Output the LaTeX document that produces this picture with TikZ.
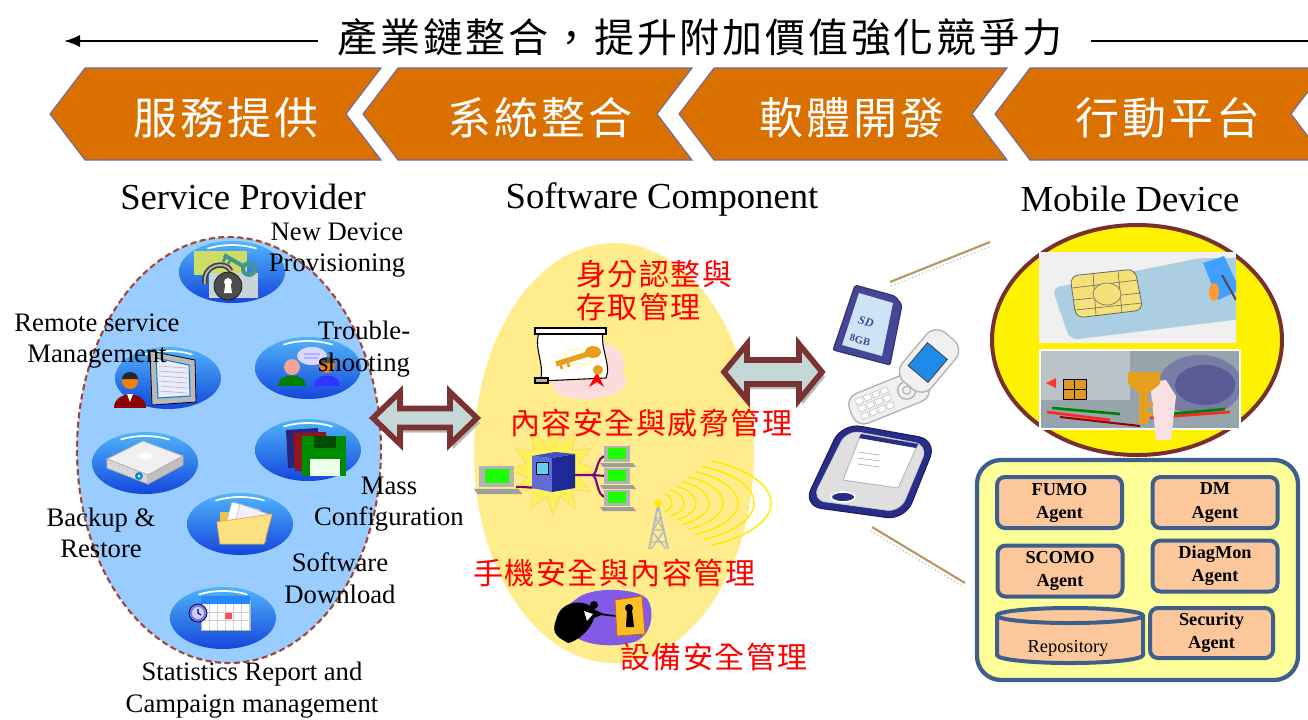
\documentclass[tikz,border=0pt]{standalone}
\usepackage{fontspec}
\setmainfont{Liberation Serif}
\newfontfamily\cjk{Noto Sans CJK TC}
\usetikzlibrary{shapes.geometric,arrows.meta,calc}

\definecolor{chev}{RGB}{217,112,0}
\definecolor{chevline}{RGB}{105,105,170}
\definecolor{spblue}{RGB}{153,204,255}
\definecolor{spdash}{RGB}{165,70,50}
\definecolor{arrfill}{RGB}{197,216,216}
\definecolor{arrline}{RGB}{122,50,50}
\definecolor{swyellow}{RGB}{255,236,140}
\definecolor{agentfill}{RGB}{255,255,153}
\definecolor{agentline}{RGB}{62,94,140}
\definecolor{peach}{RGB}{252,200,155}
\definecolor{mdline}{RGB}{120,48,44}
\definecolor{tanline}{RGB}{185,150,100}
\definecolor{discdark}{RGB}{20,70,220}
\definecolor{disclight}{RGB}{80,180,250}
\definecolor{gold}{RGB}{230,160,30}
\definecolor{keyteal}{RGB}{70,150,140}
\definecolor{lockyg}{RGB}{205,220,100}
\definecolor{lockgray}{RGB}{200,212,216}
\definecolor{sdblue}{RGB}{70,70,150}
\definecolor{pdablue}{RGB}{40,45,135}
\definecolor{simblue}{RGB}{172,206,226}
\definecolor{chipgold}{RGB}{245,225,120}
\definecolor{burglar}{RGB}{130,90,230}
\definecolor{wave}{RGB}{255,235,0}
\definecolor{facepink}{RGB}{240,165,150}
\definecolor{folderback}{RGB}{235,195,80}
\definecolor{folderfront}{RGB}{250,225,130}
\definecolor{blobpink}{RGB}{250,220,220}
\definecolor{burstfill}{RGB}{255,240,90}
\definecolor{burstline}{RGB}{250,215,120}
\definecolor{srvfront}{RGB}{90,110,220}
\definecolor{srvside}{RGB}{30,40,150}
\definecolor{srvtop}{RGB}{60,80,190}
\definecolor{doorgold}{RGB}{250,190,40}
\definecolor{sdlabel}{RGB}{205,228,245}
\definecolor{phonescreen}{RGB}{30,140,230}
\definecolor{cardbg}{RGB}{150,165,172}
\definecolor{cardlight}{RGB}{185,195,200}
\definecolor{cardring}{RGB}{120,125,165}
\definecolor{carddark}{RGB}{90,90,150}
\definecolor{keypink}{RGB}{250,225,225}

\tikzset{
  chevshape/.style={fill=chev, draw=chevline, line width=0.8pt},
  chevtxt/.style={font=\cjk\fontsize{33}{40}\selectfont\addfontfeature{LetterSpace=7}, text=white, inner sep=0pt},
  titletxt/.style={font=\cjk\fontsize{30}{36}\selectfont\addfontfeature{LetterSpace=7}, inner sep=0pt},
  trend/.style={line width=1.3pt, black},
  headtxt/.style={font=\fontsize{27.5}{33}\selectfont, inner sep=0pt},
  lbl/.style={font=\fontsize{20}{23.6}\selectfont, align=center, inner sep=0pt},
  redtxt/.style={font=\cjk\fontsize{22.5}{24.75}\selectfont\addfontfeature{LetterSpace=5}, text=red, inner sep=0pt},
  agent/.style={draw=agentline, fill=peach, line width=3pt, rounded corners=6pt,
    minimum width=93.75pt, minimum height=38.25pt, align=center,
    font=\bfseries\fontsize{13.7}{17.3}\selectfont, inner sep=0pt},
  dblarrow/.style={fill=arrfill, draw=arrline, line width=4.2pt, line join=miter},
  disc/.pic={
    \shade[top color=disclight, bottom color=discdark] (0,0) ellipse [x radius=53, y radius=31];
    \draw[white, line width=1.3pt] (240:49 and 27) arc[start angle=240, end angle=300, x radius=49, y radius=27];
  },
  pcmon/.pic={
    \fill[gray!60] (-14,-9) rectangle (12,7);
    \fill[green!85!lime] (-10,-7) rectangle (8,4);
    \fill[gray!75] (-18,8) -- (15,8) -- (18,12) -- (-15,12) -- cycle;
  },
  pics/dblarr/.style n args={4}{code={
    \begin{scope}[shift={(3,5)}]
      \fill[gray!55] (-#1,0) -- (-#1+#2,-#3) -- (-#1+#2,-#4) -- (#1-#2,-#4) -- (#1-#2,-#3) -- (#1,0)
        -- (#1-#2,#3) -- (#1-#2,#4) -- (-#1+#2,#4) -- (-#1+#2,#3) -- cycle;
    \end{scope}
    \draw[dblarrow] (-#1,0) -- (-#1+#2,-#3) -- (-#1+#2,-#4) -- (#1-#2,-#4) -- (#1-#2,-#3) -- (#1,0)
        -- (#1-#2,#3) -- (#1-#2,#4) -- (-#1+#2,#4) -- (-#1+#2,#3) -- cycle;
  }},
}

\begin{document}
\begin{tikzpicture}[x=0.75pt, y=-0.75pt]
\useasboundingbox (0,0) rectangle (1308,719);
\clip (0,0) rectangle (1308,719);

% ---------- headline with the value-chain arrow ----------
\node[titletxt] (title) at (700,37) {產業鏈整合，提升附加價值強化競爭力};
\coordinate (tlA) at (318,41);
\coordinate (tlB) at (64,41);
\coordinate (trA) at (1091,41);
\coordinate (trB) at (1308,41);
\draw[trend, -{Latex[length=12pt, width=9pt]}] (tlA) -- (tlB);
\draw[trend] (trA) -- (trB);

% ---------- chevrons ----------
\foreach \t/\r in {50/381, 363/692, 679/1007, 995/1326}
  \draw[chevshape] (\t,114) -- (\t+35,68) -- (\r,68) -- (\r-35,114) -- (\r,160) -- (\t+35,160) -- cycle;
\node[chevtxt] (ch1) at (226,118) {服務提供};
\node[chevtxt] (ch2) at (540,118) {系統整合};
\node[chevtxt] (ch3) at (852,118) {軟體開發};
\node[chevtxt] (ch4) at (1168,118) {行動平台};

% ---------- column headings ----------
\node[headtxt] (hsp) at (243,197) {Service Provider};
\node[headtxt] (hsw) at (662,199) {Software Component};
\node[headtxt] (hmd) at (1130,199) {Mobile Device};

% ---------- service provider oval ----------
\node[ellipse, fill=spblue, draw=spdash, line width=1.6pt, dash pattern=on 4.5pt off 2.6pt,
      minimum width=228pt, minimum height=319.5pt, inner sep=0pt] (sp) at (229,450) {};

\pic at (232,272) {disc};
\pic at (168,378) {disc};
\pic at (308,368) {disc};
\pic at (145,463) {disc};
\pic at (308,450) {disc};
\pic at (240,524) {disc};
\pic at (223,618) {disc};

% lock and key
\begin{scope}[shift={(232,272)}]
  \fill[lockyg] (-38,-21) rectangle (15,3);
  \fill[lockgray] (-23,1) rectangle (26,26);
  \draw[line width=4pt, black!75] (-27,12) .. controls (-30,-8) and (-6,-12) .. (-1,-1);
  \draw[line width=1.4pt, gray!60] (-27,12) .. controls (-30,-8) and (-6,-12) .. (-1,-1);
  \filldraw[fill=black!70, draw=black] (-4,14) circle (14);
  \fill[white] (-4,10) circle (4);
  \fill[white] (-6.5,11) -- (-1.5,11) -- (0,21) -- (-8,21) -- cycle;
  \draw[keyteal, line width=3pt] (-8,-17) -- (11,-6);
  \draw[keyteal, line width=2pt] (-6,-16) -- (-9,-10) (-1,-13) -- (-4,-8);
  \draw[keyteal, line width=3pt] (17,-3) circle (6);
\end{scope}

% monitor and operator
\begin{scope}[shift={(168,378)}]
  \filldraw[fill=gray!55, draw=black, line width=0.6pt] (-18,-27) -- (27,-18) -- (28,24) -- (-16,27) -- cycle;
  \filldraw[fill=blue!8, draw=cyan!60!blue, line width=0.8pt] (-12,-20) -- (21,-13) -- (22,18) -- (-10,20) -- cycle;
  \foreach \k in {-12,-7,...,13} \draw[gray!55, line width=0.5pt] (-9,\k) -- (19,\k+2);
  \fill[red!55!black] (-54,30) .. controls (-54,12) and (-22,12) .. (-22,30) -- cycle;
  \fill[white] (-41,16) -- (-35,16) -- (-38,24) -- cycle;
  \fill[orange!80!brown] (-38,3) circle (8);
  \fill[black!85] (-46,1) arc[start angle=180, end angle=360, x radius=8, y radius=7] -- cycle;
\end{scope}

% two people talking
\begin{scope}[shift={(308,368)}]
  \fill[white!85!blue] (4,-12) ellipse [x radius=15, y radius=9];
  \draw[blue!30, line width=1pt] (-4,-14) -- (12,-14) (-4,-10) -- (10,-10);
  \fill[green!50!black] (-30,18) .. controls (-30,4) and (-2,4) .. (-2,18) -- cycle;
  \fill[facepink] (-16,-1) circle (8);
  \fill[blue!80!white] (6,18) .. controls (6,4) and (32,4) .. (32,18) -- cycle;
  \fill[orange!70!brown] (19,-3) circle (8);
  \fill[black!70] (11,-5) arc[start angle=180, end angle=360, x radius=8, y radius=6] -- cycle;
\end{scope}

% backup box
\begin{scope}[shift={(145,463)}]
  \filldraw[fill=gray!12, draw=gray!60, line width=0.6pt] (-38,-4) -- (-2,-22) -- (38,-7) -- (3,12) -- cycle;
  \filldraw[fill=gray!30, draw=gray!60, line width=0.6pt] (-38,-4) -- (3,12) -- (3,21) -- (-38,5) -- cycle;
  \filldraw[fill=gray!50, draw=gray!60, line width=0.6pt] (3,12) -- (38,-7) -- (38,2) -- (3,21) -- cycle;
  \fill[white] (0,-7) ellipse [x radius=7, y radius=3];
  \fill[cyan!70!blue] (-6,13) circle (4);
  \fill[white] (-6,13) circle (1.5);
  \foreach \g in {-34,-30,...,-18} \fill[gray!60] (\g,{(\g+38)*0.39-1}) circle (0.8);
\end{scope}

% floppy disks
\begin{scope}[shift={(308,450)}]
  \fill[blue!40!black!85] (-22,-20) -- (10,-22) -- (12,16) -- (-20,18) -- cycle;
  \fill[red!50!black!90] (-15,-17) -- (18,-18) -- (20,20) -- (-13,21) -- cycle;
  \fill[green!55!black] (-6,-14) -- (38,-14) -- (38,26) -- (-6,26) -- cycle;
  \fill[green!30!black] (6,-14) rectangle (28,-2);
  \fill[white!92!green] (2,9) rectangle (32,26);
\end{scope}

% folder
\begin{scope}[shift={(240,524)}]
  \fill[folderback] (-20,-12) -- (-8,-12) -- (-5,-8) -- (26,-8) -- (26,18) -- (-20,18) -- cycle;
  \filldraw[fill=white, draw=gray!50, line width=0.5pt] (-8,-22) -- (20,-14) -- (14,8) -- (-14,0) -- cycle;
  \filldraw[fill=blue!6, draw=gray!50, line width=0.5pt] (0,-20) -- (28,-10) -- (22,10) -- (-6,2) -- cycle;
  \filldraw[fill=folderfront, draw=orange!70, line width=0.6pt] (-23,-2) -- (32,-10) -- (24,20) -- (-20,20) -- cycle;
\end{scope}

% calendar with clock
\begin{scope}[shift={(223,618)}]
  \filldraw[fill=white, draw=gray!60, line width=0.5pt] (-22,-18) rectangle (27,12);
  \fill[blue!55!cyan!85] (-22,-22) rectangle (27,-14);
  \foreach \gx in {-14,-6,...,26} \draw[gray!40, line width=0.5pt] (\gx,-14) -- (\gx,12);
  \foreach \gy in {-6,2} \draw[gray!40, line width=0.5pt] (-22,\gy) -- (27,\gy);
  \fill[red!70] (2,-5) rectangle (9,1);
  \filldraw[fill=blue!50!gray!70, draw=blue!40!black, line width=0.6pt] (-25,-5) circle (9);
  \fill[white!80!blue] (-25,-5) circle (6);
  \draw[blue!40!black, line width=0.8pt] (-25,-9) -- (-25,-5) -- (-22,-3);
\end{scope}

% ---------- software component oval ----------
\node[ellipse, fill=swyellow, minimum width=210pt, minimum height=315pt, inner sep=0pt] (sw) at (614,453) {};

% certificate scroll with key
\fill[blobpink] (560,345) .. controls (600,332) and (635,350) .. (622,372)
  .. controls (640,395) and (590,405) .. (560,395) .. controls (545,385) and (548,360) .. (560,345) -- cycle;
\filldraw[fill=white, draw=black, line width=0.8pt] (540,331) -- (604,328) .. controls (598,345) and (612,365) .. (606,378)
  -- (540,381) .. controls (546,366) and (532,346) .. (540,331) -- cycle;
\filldraw[fill=white, draw=black, line width=0.8pt] (535,328) rectangle (606,334);
\filldraw[fill=gray!60, draw=black, line width=0.8pt] (535,378) rectangle (548,383);
\draw[yellow!45, line width=0.6pt] (578,357) ellipse [x radius=15, y radius=8];
\draw[gold, line width=4pt] (556,364) -- (588,354);
\fill[gold] (593,352) ellipse [x radius=8, y radius=6];
\draw[gold, line width=2pt] (560,363) -- (562,369) (567,361) -- (569,367);
\fill[red] (597,372) -- (589,387) -- (597,382) -- (604,387) -- cycle;
\fill[gold] (598,370) circle (5);

% network with server
\node[star, star points=12, star point ratio=1.6, minimum size=66pt, fill=burstfill,
      draw=burstline, line width=0.6pt, inner sep=0pt] (burst) at (553,470) {};
\draw[violet, line width=1.6pt] (540,485) .. controls (532,490) and (528,486) .. (516,487);
\draw[violet, line width=1.6pt] (575,475) -- (592,475) .. controls (598,475) and (596,456) .. (606,456)
  (592,475) -- (606,476) (592,475) .. controls (598,475) and (596,497) .. (606,497);
\fill[srvfront] (532,456) -- (552,458) -- (552,492) -- (532,488) -- cycle;
\fill[srvside] (552,458) -- (575,454) -- (575,488) -- (552,492) -- cycle;
\fill[srvtop] (532,456) -- (555,452) -- (575,454) -- (552,458) -- cycle;
\filldraw[fill=cyan!60, draw=black, line width=0.5pt] (536,462) rectangle (548,474);
\foreach \dx/\dy in {538/479, 542/482, 546/479, 538/485, 546/485} \fill[red!80] (\dx,\dy) circle (0.9);
\pic[scale=1.35] at (498,478) {pcmon};
\pic at (618,455) {pcmon};
\pic at (618,477) {pcmon};
\pic at (618,499) {pcmon};

% radio tower and waves
\foreach \r in {14,26,38,51,65,80,96,113}
  \draw[wave, line width=1.1pt] (658,503) ++(-62:{\r} and {0.38*\r+5}) arc[start angle=-62, end angle=62, x radius=\r, y radius={0.38*\r+5}];
\draw[gray!55, line width=1.4pt] (649,549) -- (658,505) -- (668,549);
\draw[gray!55, line width=1pt] (653,530) -- (664,530) (651,542) -- (666,542)
  (652,531) -- (666,549) (664,531) -- (651,549) (655,518) -- (662,518) (655,518) -- (664,530) (661,518) -- (653,530);
\fill[wave] (658,503) circle (4);

% intruder at the keyhole
\fill[burglar] (575,600) .. controls (590,585) and (640,588) .. (648,600) .. controls (656,615) and (650,640) .. (630,643)
  .. controls (610,648) and (580,645) .. (570,632) .. controls (558,620) and (562,608) .. (575,600) -- cycle;
\fill[black] (556,620) .. controls (560,600) and (585,598) .. (595,610) -- (604,614) -- (594,618)
  .. controls (590,632) and (575,642) .. (568,643) .. controls (560,638) and (550,635) .. (556,620) -- cycle;
\fill[white] (584,611) -- (593,614) -- (587,621) -- cycle;
\fill[black] (594,605) circle (4);
\draw[black, line width=1.2pt] (598,614) -- (616,616);
\filldraw[fill=doorgold, draw=orange!80!black, line width=0.6pt] (615,600) -- (642,596) -- (645,634) -- (617,636) -- cycle;
\fill[black] (629,608) circle (4);
\fill[black] (627,610) -- (632,610) -- (634,627) -- (626,627) -- cycle;

% ---------- double arrows ----------
\pic (arrL) at (425,418) {dblarr={52}{27}{26}{9.5}};
\pic (arrR) at (773,372) {dblarr={49}{23}{28}{12}};

% ---------- devices ----------
% SD card
\filldraw[fill=sdblue, draw=sdblue!70!black, line width=0.8pt, rounded corners=1.5pt] (855,285) -- (895,296) -- (902,305) -- (890,365) -- (833,350) -- cycle;
\fill[sdlabel] (859,293) -- (893,303) -- (882,356) -- (842,345) -- cycle;
\node[rotate=-15, font=\bfseries\itshape\fontsize{9}{10}\selectfont, text=sdblue, inner sep=0pt] (sdlogo) at (866,322) {SD};
\node[rotate=-15, font=\bfseries\fontsize{8}{9}\selectfont, text=sdblue, inner sep=0pt] (sdsize) at (860,340) {8GB};

% flip phone
\begin{scope}[shift={(890,397)}, rotate=22]
  \filldraw[fill=gray!12, draw=gray!60, line width=1pt, rounded corners=9pt] (-42,-16) rectangle (40,16);
  \foreach \kx in {-30,-21,...,-3} \foreach \ky in {-8,0,8}
    \filldraw[fill=white, draw=gray!50, line width=0.4pt] (\kx-3.5,\ky-2.8) rectangle (\kx+3.5,\ky+2.8);
  \draw[gray!60, line width=1pt] (18,0) circle (9);
  \draw[gray!60, line width=0.8pt] (18,0) circle (4);
\end{scope}
\begin{scope}[shift={(929,361)}, rotate=50]
  \filldraw[fill=gray!12, draw=gray!60, line width=1pt, rounded corners=10pt] (-32,-19) rectangle (32,19);
  \filldraw[fill=phonescreen, draw=gray!50!black, line width=0.6pt] (-17,-13) rectangle (13,13);
\end{scope}

% PDA
\filldraw[fill=pdablue, draw=pdablue!70!black, line width=0.8pt, rounded corners=14pt] (842,423) -- (937,440) -- (905,520) -- (803,506) -- cycle;
\filldraw[fill=gray!25, draw=gray!40, line width=0.6pt, rounded corners=10pt] (847,430) -- (928,445) -- (900,512) -- (812,500) -- cycle;
\filldraw[fill=white, draw=gray!60, line width=0.6pt] (861,434) -- (918,444) -- (898,488) -- (843,480) -- cycle;
\fill[pdablue] (861,434) -- (918,444) -- (916,448) -- (859,438) -- cycle;
\foreach \ly in {452,458,464} \draw[gray!60, line width=0.5pt] (858,\ly) -- (880,\ly+3);
\filldraw[fill=pdablue, draw=white, line width=1.2pt] (843,497) ellipse [x radius=12, y radius=5];

% ---------- mobile device oval ----------
\node[ellipse, fill=yellow, draw=mdline, line width=3pt, minimum width=217.5pt, minimum height=172.5pt, inner sep=0pt] (md) at (1137,340) {};

% SIM card picture
\begin{scope}
  \clip (1039,252) rectangle (1236,343);
  \fill[gray!12] (1039,252) rectangle (1236,343);
  \fill[simblue, rounded corners=6pt] (1052,288) -- (1200,258) -- (1250,258) -- (1250,318) -- (1070,340) -- cycle;
  \filldraw[fill=chipgold, draw=black!60, line width=0.6pt, rounded corners=6pt] (1070,276) -- (1135,269) -- (1143,310) -- (1076,318) -- cycle;
  \draw[black!55, line width=0.5pt] (1072,288) -- (1138,280) (1074,300) -- (1141,293) (1075,310) -- (1142,303)
    (1093,273) -- (1096,316) (1118,271) -- (1122,313);
  \filldraw[fill=chipgold, draw=black!55, line width=0.5pt] (1107,294) ellipse [x radius=14, y radius=11];
  \fill[blue!50!cyan!75] (1203,263) -- (1224,256) -- (1240,290) -- (1218,300) -- cycle;
  \fill[orange!80] (1214,292) ellipse [x radius=5, y radius=9];
  \draw[black!70, line width=1.5pt] (1222,275) -- (1236,300);
\end{scope}

% card reader picture
\begin{scope}
  \clip (1040,350) rectangle (1240,429);
  \fill[cardbg] (1040,350) rectangle (1240,429);
  \fill[cardlight] (1040,350) rectangle (1130,400);
  \fill[cardring] (1200,385) ellipse [x radius=42, y radius=30];
  \fill[carddark] (1205,385) ellipse [x radius=30, y radius=20];
  \fill[red!80] (1046,383) -- (1056,378) -- (1056,388) -- cycle;
  \filldraw[fill=gold!80!brown, draw=black, line width=0.6pt] (1063,379) rectangle (1086,399);
  \draw[black, line width=0.6pt] (1074,379) -- (1074,399) (1063,389) -- (1086,389);
  \draw[red!85, line width=2pt] (1047,412) -- (1110,420) (1150,418) -- (1230,412);
  \draw[green!50!black, line width=2pt] (1052,408) -- (1120,414) (1170,414) -- (1225,409);
  \draw[red!60!black, line width=1.5pt] (1060,417) -- (1140,426);
\end{scope}
\draw[white, line width=1pt] (1040,350) rectangle (1240,429);
\fill[keypink] (1150,382) -- (1166,380) -- (1176,396) -- (1171,440) -- (1156,440) -- cycle;
\fill[gold] (1128,372) -- (1160,372) -- (1160,384) -- (1150,392) -- (1138,392) -- (1128,384) -- cycle;
\fill[gold] (1139,390) rectangle (1148,424);
\fill[gold] (1148,402) rectangle (1153,406) (1148,412) rectangle (1153,416);

% ---------- leader lines ----------
\coordinate (lnA1) at (890,282);
\coordinate (lnA2) at (990,242);
\coordinate (lnB1) at (872,527);
\coordinate (lnB2) at (965,583);
\draw[gray!60, line width=0.8pt, dotted] ([shift={(1,4)}]lnA1) -- ([shift={(1,4)}]lnA2);
\draw[tanline, line width=1.6pt] (lnA1) -- (lnA2);
\draw[gray!60, line width=0.8pt, dotted] ([shift={(-1,4)}]lnB1) -- ([shift={(-1,4)}]lnB2);
\draw[tanline, line width=1.6pt] (lnB1) -- (lnB2);

% ---------- agent container ----------
\node[draw=agentline, fill=agentfill, line width=3.2pt, rounded corners=18pt,
      minimum width=240.75pt, minimum height=165pt, inner sep=0pt] (ab) at (1137.5,570) {};
\node[agent] (fumo) at (1059.5,502.5) {FUMO\\Agent};
\node[agent] (dm) at (1215,502.5) {DM\\Agent};
\node[agent] (scomo) at (1060,571) {SCOMO\\Agent};
\node[agent] (diag) at (1215,566) {DiagMon\\Agent};
\node[agent, minimum width=92.25pt, minimum height=37.5pt] (sec) at (1211.5,633) {Security\\Agent};
\filldraw[fill=peach, draw=agentline, line width=3pt]
  (997,615.5) -- (997,655) arc[start angle=180, end angle=0, x radius=73, y radius=8]
  -- (1143,615.5) arc[start angle=360, end angle=180, x radius=73, y radius=7.5] -- cycle;
\draw[agentline, line width=3pt] (997,615.5) arc[start angle=180, end angle=0, x radius=73, y radius=7.5];
\node[font=\fontsize{13.8}{16}\selectfont, inner sep=0pt] (repo) at (1068,648) {Repository};

% ---------- labels ----------
\node[lbl] (lnew) at (337,250) {New Device\\Provisioning};
\node[lbl] (lrem) at (97,341) {Remote service\\Management};
\node[lbl] (ltrb) at (364,349) {Trouble-\\shooting};
\node[lbl] (lmass) at (389,504) {Mass\\Configuration};
\node[lbl] (lback) at (101,533) {Backup \&\\Restore};
\node[lbl] (lswd) at (340,578) {Software\\Download};
\node[lbl] (lstat) at (252,690) {Statistics Report and\\Campaign management};

\node[redtxt, align=left, anchor=west] (ridm) at (576,291) {身分認整與\\存取管理};
\node[redtxt] (rcst) at (651,423) {內容安全與威脅管理};
\node[redtxt] (rmob) at (614,573) {手機安全與內容管理};
\node[redtxt] (rdev) at (714,657) {設備安全管理};
\end{tikzpicture}
\end{document}
